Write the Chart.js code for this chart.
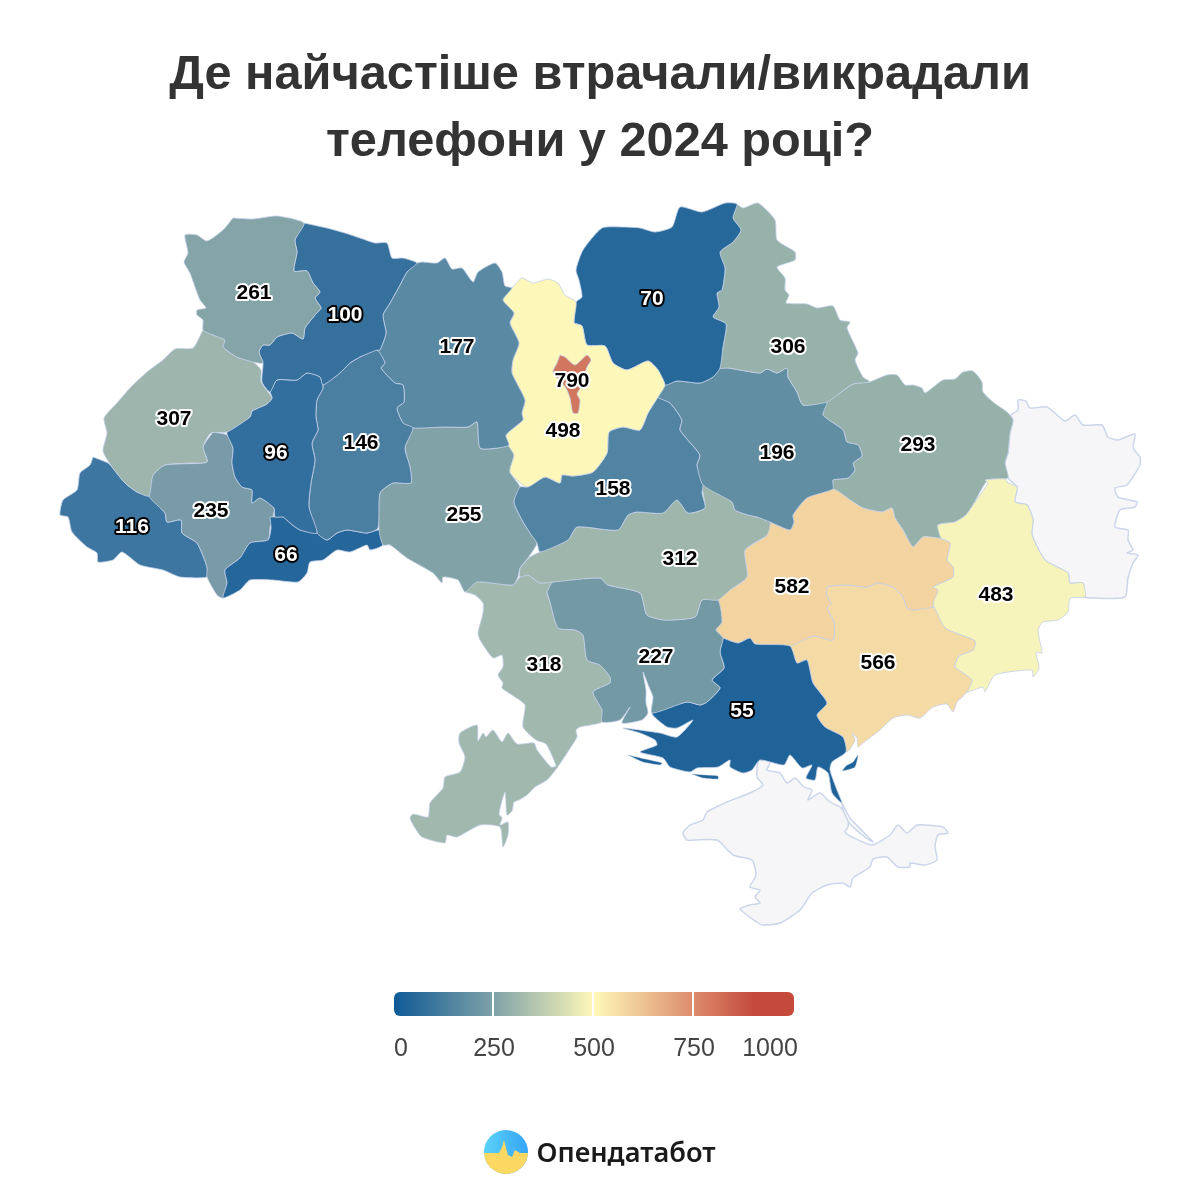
<!DOCTYPE html>
<html>
<head>
<meta charset="utf-8">
<title>Телефони 2024</title>
<script src="https://cdn.jsdelivr.net/npm/chart.js@4"></script>
<style>
    html, body { margin: 0; padding: 0; background: #fff; }
    #wrap { width: 1200px; height: 1200px; }
</style>
</head>
<body>
<div id="wrap"><canvas id="mapChart" width="1200" height="1200"></canvas></div>
<script>

const titleLines = ["Де найчастіше втрачали/викрадали", "телефони у 2024 році?"];

// values per region, same order in all the arrays below
const regionNames = ["Київ", "Волинська", "Рівненська", "Львівська", "Тернопільська", "Хмельницька", "Житомирська", "Київська", "Чернігівська", "Сумська", "Полтавська", "Черкаська", "Вінницька", "Чернівецька", "Івано-Франківська", "Закарпатська", "Кіровоградська", "Миколаївська", "Херсонська", "Одеська", "Дніпропетровська", "Запорізька", "Донецька", "Харківська"];
const regionValues = [790, 261, 100, 307, 96, 146, 177, 498, 70, 306, 196, 158, 255, 66, 235, 116, 312, 227, 55, 318, 582, 566, 483, 293];
const regionColors = ["#d2775f", "#84a4a8", "#36709d", "#9db5ac", "#336f9e", "#4b7fa2", "#5a8aa3", "#fdf7b9", "#256899", "#97b2ab", "#618ea3", "#5183a3", "#81a2a7", "#25679a", "#799ba7", "#3d76a0", "#9eb6ab", "#7399a4", "#1f6398", "#a0b8ad", "#f3d4a0", "#f4daa5", "#f6f4ba", "#95b1aa"];
const labelX = [572, 254, 345, 174, 276, 361, 457, 563, 652, 788, 777, 613, 464, 286, 211, 132, 680, 656, 742, 544, 792, 878, 996, 918];
const labelY = [381, 293, 315, 419, 453, 443, 347, 431, 299, 347, 453, 489, 515, 555, 511, 527, 559, 657, 711, 665, 587, 663, 595, 445];

const legendTicks = [250, 500, 750];
const legendStops = [0, 250, 500, 750, 900, 1000];
const legendColors = ["#0f5a96", "#7fa2a8", "#fff9b9", "#dc8a6c", "#c44a3b", "#c44a3b"];

// region borders
const kyivCity = [[560,355],[565,357],[575,365],[587,355],[591,360],[587,367],[581,387],[577,394],[580,400],[578,413],[573,413],[570,398],[566,388],[553,372],[557,363]];
const volyn = [[233,218],[253,219],[277,216],[304,223],[295,240],[297,252],[294,271],[307,271],[313,283],[320,292],[315,298],[321,308],[315,315],[305,328],[303,339],[292,333],[277,337],[270,345],[263,345],[259,352],[263,363],[253,362],[237,357],[223,347],[225,340],[213,335],[203,330],[203,320],[197,315],[197,310],[206,308],[200,300],[195,287],[190,273],[184,262],[188,253],[185,235],[197,235],[207,241],[223,230]];
const rivne = [[304,223],[327,228],[345,233],[360,238],[375,243],[387,243],[392,258],[403,258],[417,263],[407,272],[400,285],[390,303],[383,315],[386,333],[380,350],[377,350],[360,357],[350,363],[340,373],[323,385],[320,377],[307,373],[297,380],[277,380],[270,392],[262,382],[263,363],[259,352],[263,345],[270,345],[277,337],[292,333],[303,339],[305,328],[315,315],[321,308],[315,298],[320,292],[313,283],[307,271],[294,271],[297,252],[295,240]];
const lviv = [[203,330],[213,335],[225,340],[223,347],[237,357],[253,362],[261,370],[261,382],[272,398],[267,404],[252,411],[250,417],[227,432],[211,433],[203,447],[207,462],[190,463],[165,465],[153,475],[149,496],[137,492],[125,483],[112,467],[103,451],[107,433],[104,418],[117,403],[130,388],[147,372],[163,360],[175,349],[193,348]];
const ternopil = [[270,392],[277,380],[297,380],[307,373],[320,377],[323,388],[317,400],[316,417],[318,430],[312,443],[315,460],[311,483],[309,507],[317,533],[300,530],[290,523],[283,517],[275,517],[274,508],[260,498],[252,503],[252,490],[242,487],[235,477],[232,463],[233,448],[227,432],[250,417],[252,411],[267,404],[272,398]];
const khmelnytskyi = [[323,385],[340,373],[350,363],[360,357],[377,350],[385,363],[381,368],[395,383],[403,385],[404,402],[397,408],[403,423],[413,428],[405,448],[410,467],[411,483],[393,483],[380,493],[378,528],[367,533],[347,530],[337,533],[327,540],[317,533],[309,507],[311,483],[315,460],[312,443],[318,430],[316,417],[317,400],[323,388]];
const zhytomyr = [[417,263],[422,262],[437,263],[445,258],[452,269],[462,268],[473,282],[478,272],[495,263],[502,272],[505,286],[512,288],[503,300],[514,313],[510,323],[519,343],[513,360],[512,373],[525,400],[522,413],[523,420],[506,435],[509,445],[498,448],[480,448],[477,422],[468,427],[445,427],[413,428],[403,423],[397,408],[404,402],[403,385],[395,383],[381,368],[385,363],[377,350],[380,350],[386,333],[383,315],[390,303],[400,285],[407,272]];
const kyivObl = [[512,288],[522,278],[533,283],[548,279],[558,283],[565,295],[576,302],[574,323],[582,326],[587,345],[605,346],[613,363],[627,370],[648,361],[658,370],[665,385],[658,397],[648,413],[640,430],[623,427],[609,432],[607,453],[593,472],[573,476],[562,475],[560,483],[545,477],[527,487],[510,472],[514,455],[508,445],[506,435],[523,420],[522,413],[525,400],[512,373],[513,360],[519,343],[510,323],[514,313],[503,300]];
const chernihiv = [[574,323],[576,302],[582,297],[579,280],[576,270],[583,250],[602,228],[623,227],[640,228],[655,232],[672,227],[680,207],[702,212],[725,203],[737,204],[733,218],[741,230],[733,242],[720,252],[725,268],[722,290],[717,293],[719,307],[713,317],[726,324],[723,347],[720,368],[713,377],[700,383],[677,381],[665,385],[658,370],[648,361],[627,370],[613,363],[605,346],[587,345],[582,326]];
const sumy = [[737,204],[743,208],[758,203],[775,220],[777,240],[795,252],[795,260],[777,267],[785,278],[785,290],[789,295],[786,303],[807,304],[817,308],[833,306],[840,320],[850,322],[847,328],[858,353],[855,360],[863,377],[870,382],[853,384],[840,393],[827,402],[803,405],[797,392],[788,377],[787,368],[777,373],[767,369],[760,373],[728,368],[720,368],[723,347],[726,324],[713,317],[719,307],[717,293],[722,290],[725,268],[720,252],[733,242],[741,230],[733,218]];
const poltava = [[665,385],[677,381],[700,383],[713,377],[720,368],[728,368],[760,373],[767,369],[777,373],[787,368],[788,377],[797,392],[803,405],[827,402],[823,415],[843,430],[847,442],[858,445],[862,456],[853,463],[855,470],[848,478],[833,480],[833,489],[807,498],[793,515],[794,522],[790,530],[770,522],[757,517],[748,515],[735,510],[732,502],[703,485],[697,465],[700,455],[680,430],[682,420],[670,403],[658,397]];
const cherkasy = [[658,397],[670,403],[682,420],[680,430],[700,455],[697,465],[703,485],[702,493],[705,508],[688,513],[677,500],[663,513],[637,512],[628,515],[618,530],[577,527],[568,540],[540,552],[537,543],[530,533],[522,520],[514,502],[520,487],[527,487],[545,477],[560,483],[562,475],[573,476],[593,472],[607,453],[609,432],[623,427],[640,430],[648,413]];
const vinnytsia = [[413,428],[445,427],[468,427],[477,422],[480,448],[498,448],[508,445],[514,455],[510,472],[520,487],[514,502],[522,520],[530,533],[537,543],[528,558],[520,568],[518,577],[513,585],[477,582],[465,592],[458,580],[443,577],[442,583],[433,573],[407,558],[390,545],[383,545],[379,530],[380,493],[393,483],[411,483],[410,467],[405,448]];
const chernivtsi = [[270,517],[283,517],[290,523],[300,530],[317,533],[327,540],[337,533],[347,530],[367,533],[380,530],[383,545],[370,550],[367,545],[350,552],[337,550],[323,560],[310,562],[307,573],[298,582],[273,580],[250,580],[240,590],[223,598],[227,583],[225,570],[240,558],[250,543],[268,540],[271,528]];
const ivanoFrankivsk = [[213,432],[227,435],[233,448],[232,463],[235,477],[242,487],[252,490],[252,503],[260,498],[274,508],[270,528],[268,540],[250,543],[240,558],[225,570],[227,583],[223,598],[217,595],[207,577],[207,567],[197,543],[182,533],[181,520],[167,522],[165,513],[149,496],[153,475],[165,465],[207,462],[203,447]];
const zakarpattia = [[93,457],[108,463],[112,467],[125,483],[137,492],[149,496],[165,513],[167,522],[181,520],[182,533],[197,543],[207,567],[207,577],[180,577],[163,570],[140,565],[122,552],[113,560],[98,562],[97,553],[87,547],[72,532],[68,517],[60,515],[63,500],[77,490],[80,473],[90,465]];
const kirovohrad = [[520,568],[530,557],[540,552],[568,540],[577,527],[618,530],[628,515],[637,512],[663,513],[677,500],[688,513],[705,508],[702,483],[732,502],[735,510],[748,515],[757,517],[770,522],[767,535],[745,550],[747,577],[730,590],[718,600],[702,600],[695,617],[665,620],[647,615],[640,593],[608,585],[600,578],[553,582],[540,583],[528,575],[520,577]];
const mykolaiv = [[547,592],[553,582],[600,578],[608,585],[640,593],[647,615],[665,620],[695,617],[702,600],[718,600],[722,622],[716,630],[723,638],[720,652],[724,668],[712,680],[720,688],[707,702],[700,705],[687,702],[652,713],[653,697],[649,687],[643,672],[646,690],[646,703],[648,713],[642,720],[622,723],[630,707],[620,720],[602,722],[602,710],[593,692],[610,683],[610,677],[600,665],[587,660],[583,635],[575,630],[558,628],[550,602]];
const kherson = [[723,638],[738,643],[750,638],[755,644],[790,646],[797,663],[807,660],[813,683],[827,703],[817,715],[825,727],[843,737],[846,752],[832,762],[830,770],[837,790],[842,803],[832,793],[828,773],[818,767],[815,780],[806,778],[812,765],[802,768],[790,755],[784,765],[760,760],[752,770],[743,773],[730,767],[730,760],[718,767],[697,768],[690,772],[670,767],[663,758],[640,752],[657,745],[655,740],[640,733],[623,728],[660,733],[677,737],[693,720],[677,728],[667,727],[652,713],[687,702],[700,705],[707,702],[720,688],[712,680],[724,668],[720,652]];
const odesa = [[465,592],[477,582],[513,585],[520,577],[528,575],[540,583],[553,582],[547,592],[550,602],[558,628],[575,630],[583,635],[587,660],[600,665],[610,677],[610,683],[593,692],[602,710],[602,722],[580,727],[576,730],[577,737],[567,753],[557,768],[547,780],[535,787],[527,795],[519,800],[514,802],[512,811],[507,815],[505,792],[499,814],[502,818],[500,825],[508,822],[508,835],[503,847],[500,827],[480,825],[457,837],[447,835],[445,843],[422,837],[415,828],[410,818],[413,814],[428,817],[430,803],[443,788],[445,777],[460,772],[465,757],[459,743],[460,733],[477,725],[478,741],[483,733],[486,737],[493,730],[502,742],[508,733],[517,744],[534,743],[537,750],[551,767],[556,766],[546,744],[536,740],[523,727],[525,705],[515,697],[502,688],[503,683],[498,675],[503,667],[502,655],[493,658],[480,640],[478,633],[483,613],[483,603],[475,595]];
const dnipro = [[750,528],[768,522],[790,530],[794,522],[793,515],[807,498],[833,489],[853,502],[863,508],[882,512],[892,508],[895,518],[903,530],[913,547],[923,537],[938,538],[950,543],[947,560],[953,567],[953,577],[933,587],[938,590],[933,603],[933,607],[913,610],[907,608],[903,597],[893,587],[878,583],[867,587],[847,585],[827,587],[827,597],[831,603],[827,608],[834,622],[833,640],[813,636],[790,646],[755,644],[750,638],[738,643],[723,638],[716,630],[722,622],[718,600],[730,590],[747,577],[745,550],[767,535]];
const zaporizhzhia = [[790,646],[813,636],[833,640],[834,622],[827,608],[831,603],[827,597],[827,587],[847,585],[867,587],[878,583],[893,587],[903,597],[907,608],[913,610],[933,607],[945,628],[975,641],[973,650],[959,656],[955,667],[972,680],[967,692],[957,702],[953,712],[947,704],[933,707],[920,718],[907,715],[893,718],[880,730],[863,743],[858,747],[857,738],[852,733],[855,740],[847,752],[843,737],[825,727],[817,715],[827,703],[813,683],[807,660],[797,663]];
const donetsk = [[1008,483],[1005,479],[985,480],[988,483],[973,505],[966,515],[955,522],[938,525],[941,538],[950,543],[947,560],[953,567],[953,577],[933,587],[938,590],[933,603],[945,628],[975,641],[973,650],[959,656],[955,667],[972,680],[967,692],[983,687],[985,692],[995,675],[1032,670],[1033,677],[1039,668],[1036,652],[1042,653],[1038,630],[1043,622],[1058,620],[1068,612],[1070,598],[1085,597],[1083,583],[1070,583],[1068,573],[1045,560],[1032,535],[1033,520],[1027,505],[1015,502],[1017,487]];
const kharkiv = [[870,382],[887,375],[897,375],[905,385],[913,385],[922,388],[925,393],[943,380],[955,379],[963,372],[973,371],[982,382],[983,392],[993,402],[1007,412],[1013,420],[1010,433],[1008,453],[1005,463],[1008,478],[988,480],[973,505],[966,515],[955,522],[938,525],[941,538],[923,537],[913,547],[903,530],[895,518],[892,508],[882,512],[863,508],[853,502],[833,489],[833,480],[848,478],[855,470],[853,463],[862,456],[858,445],[847,442],[843,430],[823,415],[827,402],[840,393],[853,384]];

// pieces with no value of their own
const tendraSpit = [[628,755],[645,759],[662,763],[660,765],[643,762]];
const dzharylhachSpit = [[692,774],[705,775],[718,776],[718,779],[703,778]];
const henicheskSpit = [[842,771],[846,766],[853,762],[858,755],[855,767],[847,770]];
const luhansk = [[1010,415],[1018,410],[1018,400],[1026,401],[1030,408],[1047,407],[1065,421],[1075,415],[1083,425],[1102,425],[1108,437],[1118,440],[1135,434],[1133,448],[1140,457],[1140,465],[1127,485],[1115,488],[1118,497],[1137,502],[1135,507],[1120,510],[1115,527],[1128,530],[1128,540],[1133,550],[1127,553],[1138,555],[1133,563],[1128,578],[1125,597],[1093,598],[1085,597],[1083,583],[1070,583],[1068,573],[1045,560],[1032,535],[1033,520],[1027,505],[1015,502],[1017,487],[1008,478],[1005,463],[1008,453],[1010,433],[1013,420]];
const crimea = [[757,767],[759,760],[770,762],[767,770],[780,773],[787,783],[795,778],[804,787],[812,790],[808,800],[820,793],[830,802],[840,807],[848,818],[848,827],[845,832],[852,837],[872,845],[890,835],[898,825],[907,833],[917,825],[943,827],[948,833],[938,835],[935,847],[937,860],[925,865],[910,863],[910,867],[898,867],[887,857],[873,859],[870,867],[853,878],[850,887],[843,883],[827,885],[812,893],[800,910],[780,923],[763,925],[758,923],[740,909],[750,905],[760,903],[755,897],[760,890],[750,887],[756,875],[752,860],[733,855],[717,840],[687,840],[683,833],[690,825],[703,820],[707,812],[727,802],[752,792],[763,785],[757,777]];
const arabatSpit = [[842,803],[850,818],[873,842],[866,838],[850,824],[843,810]];

const regionOutlines = [kyivCity, volyn, rivne, lviv, ternopil, khmelnytskyi, zhytomyr, kyivObl, chernihiv, sumy, poltava, cherkasy, vinnytsia, chernivtsi, ivanoFrankivsk, zakarpattia, kirovohrad, mykolaiv, kherson, odesa, dnipro, zaporizhzhia, donetsk, kharkiv];

const legendLabels = ["0", "250", "500", "750", "1000"];
const legendLabelX = [401, 494, 594, 694, 770];
const brandName = "Опендатабот";


function toPoints(outline) {
    const pts = outline.map(p => ({ x: p[0], y: p[1] }));
    pts.push({ x: outline[0][0], y: outline[0][1] });
    return pts;
}

function regionDataset(name, outline, color, border, width) {
    return {
        label: name,
        data: toPoints(outline),
        showLine: true,
        fill: "shape",
        backgroundColor: color,
        borderColor: border,
        borderWidth: width,
        borderJoinStyle: "round",
        pointRadius: 0,
        tension: 0.2,
        clip: false
    };
}

const mapBorder = "rgba(195,208,232,0.8)";
const greyBorder = "#ccd6ea";

const datasets = regionOutlines.map((outline, i) =>
    regionDataset(regionNames[i], outline, regionColors[i], mapBorder, 1));

datasets.push(regionDataset("Тендрівська коса", tendraSpit, regionColors[18], mapBorder, 0.5));
datasets.push(regionDataset("Джарилгач", dzharylhachSpit, regionColors[18], mapBorder, 0.5));
datasets.push(regionDataset("Генічеськ", henicheskSpit, regionColors[18], mapBorder, 0.5));
datasets.push(regionDataset("Арабатська стрілка", arabatSpit, "#f6f6f8", greyBorder, 1.5));
datasets.push(regionDataset("Луганська", luhansk, "#f6f6f8", greyBorder, 1.5));
datasets.push(regionDataset("Крим", crimea, "#f6f6f8", greyBorder, 1.5));


// numbers on the regions, legend and logo go on top of the map
const mapTextPlugin = {
    id: "mapText",
    afterDatasetsDraw(chart) {
        const ctx = chart.ctx;
        const xs = chart.scales.x;
        const ys = chart.scales.y;

        ctx.save();
        ctx.textAlign = "center";
        ctx.textBaseline = "middle";
        ctx.lineJoin = "round";
        ctx.font = "bold 21px 'Liberation Sans'";
        regionValues.forEach((v, i) => {
            const px = xs.getPixelForValue(labelX[i]);
            const py = ys.getPixelForValue(labelY[i]);
            ctx.lineWidth = 4;
            ctx.strokeStyle = v < 120 ? "#000" : "#fff";
            ctx.strokeText(String(v), px, py);
            ctx.fillStyle = v < 120 ? "#fff" : "#000";
            ctx.fillText(String(v), px, py);
        });
        ctx.restore();

        drawLegend(ctx, xs, ys);
        drawLogo(ctx);
    }
};

function drawLegend(ctx, xs, ys) {
    const left = xs.getPixelForValue(394);
    const right = xs.getPixelForValue(794);
    const top = ys.getPixelForValue(992);
    const h = ys.getPixelForValue(1016) - top;

    const grad = ctx.createLinearGradient(left, 0, right, 0);
    legendStops.forEach((s, i) => grad.addColorStop(s / 1000, legendColors[i]));

    ctx.save();
    ctx.fillStyle = grad;
    ctx.beginPath();
    ctx.roundRect(left, top, right - left, h, 6);
    ctx.fill();

    ctx.fillStyle = "#fff";
    legendTicks.forEach(s => {
        ctx.fillRect(left + (right - left) * s / 1000 - 2, top, 2, h);
    });

    ctx.fillStyle = "#444";
    ctx.font = "25px 'Liberation Sans'";
    ctx.textAlign = "center";
    ctx.textBaseline = "alphabetic";
    legendLabels.forEach((t, i) => {
        ctx.fillText(t, xs.getPixelForValue(legendLabelX[i]), ys.getPixelForValue(1056));
    });
    ctx.restore();
}

function drawLogo(ctx) {
    ctx.save();
    ctx.beginPath();
    ctx.arc(506, 1152, 22, 0, Math.PI * 2);
    ctx.clip();

    const sky = ctx.createLinearGradient(484, 0, 528, 0);
    sky.addColorStop(0, "#5ad2f8");
    sky.addColorStop(1, "#36a4f6");
    ctx.fillStyle = sky;
    ctx.fillRect(484, 1130, 44, 44);

    ctx.fillStyle = "#fbd862";
    ctx.beginPath();
    ctx.moveTo(484, 1153);
    ctx.lineTo(499, 1153);
    ctx.lineTo(502, 1147);
    ctx.lineTo(504, 1140);
    ctx.lineTo(506, 1148);
    ctx.lineTo(508, 1155);
    ctx.lineTo(512, 1157);
    ctx.lineTo(515, 1150);
    ctx.lineTo(520, 1153);
    ctx.lineTo(528, 1153);
    ctx.lineTo(528, 1174);
    ctx.lineTo(484, 1174);
    ctx.closePath();
    ctx.fill();
    ctx.restore();

    ctx.save();
    ctx.fillStyle = "#1a1a1a";
    ctx.font = "600 27.2px 'Noto Sans'";
    ctx.textAlign = "left";
    ctx.textBaseline = "alphabetic";
    ctx.fillText(brandName, 536.5, 1162);
    ctx.restore();
}


document.addEventListener("DOMContentLoaded", function () {

    new Chart(document.getElementById("mapChart"), {
        type: "scatter",
        data: { datasets: datasets },
        plugins: [mapTextPlugin],
        options: {
            responsive: false,
            animation: false,
            layout: { padding: 0 },
            plugins: {
                legend: { display: false },
                tooltip: { enabled: false },
                title: {
                    display: true,
                    text: titleLines,
                    color: "#333",
                    font: { family: "'Liberation Sans'", size: 48.7, weight: "bold", lineHeight: 1.376 },
                    padding: { top: 42, bottom: 24 }
                }
            },
            scales: {
                x: { type: "linear", min: 0, max: 1200, display: false },
                y: { type: "linear", min: 200, max: 1200, reverse: true, display: false }
            }
        }
    });

});
</script>
</body>
</html>
